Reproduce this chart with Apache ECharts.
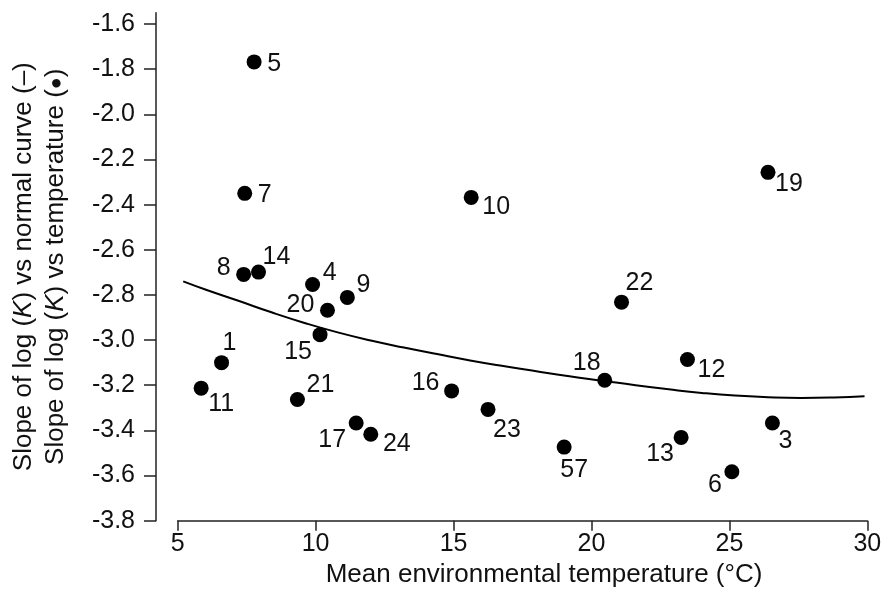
<!DOCTYPE html>
<html>
<head>
<meta charset="utf-8">
<script src="https://cdn.jsdelivr.net/npm/echarts@6/dist/echarts.min.js"></script>
<style>
html,body{margin:0;padding:0;background:#fff;}
#c{width:889px;height:595px;}
</style>
</head>
<body>
<div id="c"></div>
<script>
// ---- data ----
const pointIds = ['1','3','4','5','6','7','8','9','10','11','12','13','14','15','16','17','18','19','20','21','22','23','24','57'];
const pointTemp = [6.59,26.56,9.89,7.77,25.09,7.43,7.39,11.15,15.64,5.85,23.48,23.25,7.93,10.16,14.93,11.47,20.48,26.40,10.43,9.34,21.09,16.25,12.00,19.01];
const pointSlope = [-3.100,-3.367,-2.754,-1.768,-3.583,-2.350,-2.709,-2.811,-2.368,-3.213,-3.086,-3.431,-2.699,-2.976,-3.225,-3.367,-3.178,-2.257,-2.868,-3.263,-2.832,-3.307,-3.417,-3.474];
const curveTemp = [5.2,6.0,7.2,8.4,9.6,10.8,12.0,13.2,14.4,15.6,16.8,18.0,19.2,20.4,21.6,22.8,24.0,25.2,26.4,27.6,28.8,29.9];
const curveSlope = [-2.740,-2.776,-2.826,-2.877,-2.924,-2.966,-3.002,-3.033,-3.062,-3.090,-3.115,-3.138,-3.160,-3.180,-3.200,-3.218,-3.234,-3.246,-3.253,-3.256,-3.254,-3.249];
const xTicks = [5,10,15,20,25,30];
const yTicks = [-3.8,-3.6,-3.4,-3.2,-3.0,-2.8,-2.6,-2.4,-2.2,-2.0,-1.8,-1.6];

// ---- label placement (layout only) ----
const labelOffsets = {
  '1':[8,-20],'3':[13,18],'4':[17,-11],'5':[20,2],'6':[-17,13],'7':[20,2],'8':[-20,-6],
  '9':[16,-12],'10':[25,10],'11':[20,16],'12':[24,11],'13':[-21,17],'14':[18,-15],
  '15':[-22,17],'16':[-26,-8],'17':[-24,17],'18':[-18,-17],'19':[21,12],'20':[-27,-5],
  '21':[23,-14],'22':[18,-19],'23':[19,21],'24':[26,10],'57':[10,23]
};

const FONT = '"Liberation Sans", Arial, sans-serif';
const TXT = '#111';
const AX = '#222';

const points = pointIds.map((id, i) => ({
  name: id,
  value: [pointTemp[i], pointSlope[i]],
  label: { offset: labelOffsets[id] }
}));
const curve = curveTemp.map((t, i) => [t, curveSlope[i]]);

const chart = echarts.init(document.getElementById('c'), null, {renderer: 'canvas'});
chart.setOption({
  backgroundColor: '#fff',
  animation: false,
  grid: { left: 176.7, width: 690.6, top: 12.7, height: 508 },
  xAxis: {
    type: 'value', min: 5, max: 30, interval: 5,
    splitLine: { show: false },
    axisLine: { show: true, lineStyle: { color: AX, width: 1.5 } },
    axisTick: { show: true, length: 10, lineStyle: { color: AX, width: 1.5 } },
    axisLabel: { margin: 11, fontSize: 25, color: TXT, fontFamily: FONT,
      customValues: xTicks },
    name: 'Mean environmental temperature (°C)',
    nameLocation: 'middle', nameGap: 40,
    nameTextStyle: { fontSize: 26, color: TXT, fontFamily: FONT, padding: [0,0,0,43] }
  },
  yAxis: {
    type: 'value', min: -3.8, max: -1.55,
    offset: 21.7,
    splitLine: { show: false },
    axisLine: { show: true, lineStyle: { color: AX, width: 1.5 } },
    axisTick: { show: true, length: 12, customValues: yTicks, lineStyle: { color: AX, width: 1.5 } },
    axisLabel: { margin: 21, fontSize: 25, color: TXT, fontFamily: FONT,
      customValues: yTicks, formatter: v => v.toFixed(1) },
    name: '{t|Slope of log (}{i|K}{t|) vs normal curve (–)}\n{t|Slope of log (}{i|K}{t|) vs temperature (}{b|●}{t|)}',
    nameLocation: 'middle', nameRotate: 90, nameGap: 84,
    nameTextStyle: {
      color: TXT, fontFamily: FONT, fontSize: 26, lineHeight: 32,
      rich: {
        t: { fontSize: 26, fontFamily: FONT, color: TXT, lineHeight: 32 },
        i: { fontSize: 26, fontFamily: FONT, color: TXT, fontStyle: 'italic', lineHeight: 32 },
        b: { fontSize: 20, fontFamily: FONT, color: TXT, lineHeight: 32 }
      }
    }
  },
  series: [
    {
      type: 'line', data: curve, smooth: true, showSymbol: false, symbol: 'none',
      lineStyle: { color: '#000', width: 2 }, z: 2, silent: true
    },
    {
      type: 'scatter', data: points, symbol: 'circle', symbolSize: 15,
      itemStyle: { color: '#000', opacity: 1 }, z: 3,
      label: {
        show: true, position: 'inside', formatter: p => p.name,
        fontSize: 25, color: TXT, fontFamily: FONT, align: 'center', verticalAlign: 'middle'
      }
    }
  ]
});
</script>
</body>
</html>
